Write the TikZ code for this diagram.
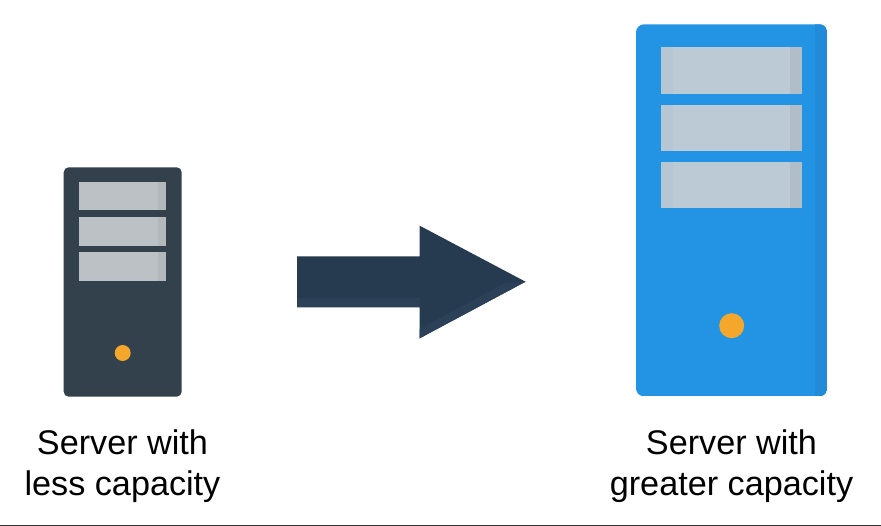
\documentclass[tikz,border=0pt]{standalone}
\usepackage{fontspec}
\setmainfont{Liberation Sans}
\definecolor{darkcase}{HTML}{32414C}
\definecolor{darkslot}{HTML}{BBC1C5}
\definecolor{darkslotshade}{HTML}{B3B8BB}
\definecolor{bluecase}{HTML}{2394E4}
\definecolor{bluecaseshade}{HTML}{218BDA}
\definecolor{blueslot}{HTML}{BBCAD4}
\definecolor{blueslotleft}{HTML}{B6C7D3}
\definecolor{blueslotshade}{HTML}{B1BEC8}
\definecolor{led}{HTML}{F4A72A}
\definecolor{arrowmain}{HTML}{263A50}
\definecolor{arrowlight}{HTML}{2C4057}
\definecolor{rulecolor}{HTML}{333333}
\tikzset{
  caption/.style={font=\fontsize{34.2}{42}\selectfont, align=center, inner sep=0pt, text=black},
}
\begin{document}
\begin{tikzpicture}[x=1pt,y=-1pt]
\useasboundingbox (0,0) rectangle (881,526);
\fill[white] (0,0) rectangle (881,526);
% small server
\fill[darkcase, rounded corners=5pt] (63.7,167.3) rectangle (181.7,396.7);
\foreach \a/\b in {181.7/210.3, 217/245.7, 252/281}{
  \fill[darkslot] (79,\a) rectangle (166.3,\b);
  \fill[darkslotshade] (158,\a) rectangle (166.3,\b);
}
\fill[led] (122.7,353) circle (8);
% arrow
\fill[arrowmain] (297,256.3) -- (419.7,256.3) -- (419.7,225.7) -- (525.5,281.7) -- (419.7,338.3) -- (419.7,307.3) -- (297,307.3) -- cycle;
\fill[arrowlight] (297,297.7) -- (419.7,297.7) -- (419.7,307.3) -- (297,307.3) -- cycle;
\fill[arrowlight] (419.7,329) -- (505,283) -- (525.5,281.7) -- (419.7,338.3) -- cycle;
% big server
\begin{scope}
\clip[rounded corners=8pt] (636,24.3) rectangle (827.3,396.3);
\fill[bluecase] (636,24.3) rectangle (827.3,396.3);
\fill[bluecaseshade] (815,24.3) rectangle (827.3,396.3);
\end{scope}
\foreach \a/\b in {47.3/94, 104.7/151.3, 162/208.3}{
  \fill[blueslot] (661,\a) rectangle (802.3,\b);
  \fill[blueslotleft] (661,\a) rectangle (673,\b);
  \fill[blueslotshade] (790,\a) rectangle (802.3,\b);
}
\fill[led] (731.7,325.7) circle (12.5);
% captions
\node[caption, anchor=base] (less) at (122.5,495) {less capacity};
\node[caption, anchor=base] (lessa) at (122.5,454.5) {Server with};
\node[caption, anchor=base] (great) at (731.5,495) {greater capacity};
\node[caption, anchor=base] (greata) at (731.5,454.5) {Server with};
% bottom rule
\fill[rulecolor] (0,524.7) rectangle (881,526);
\end{tikzpicture}
\end{document}
